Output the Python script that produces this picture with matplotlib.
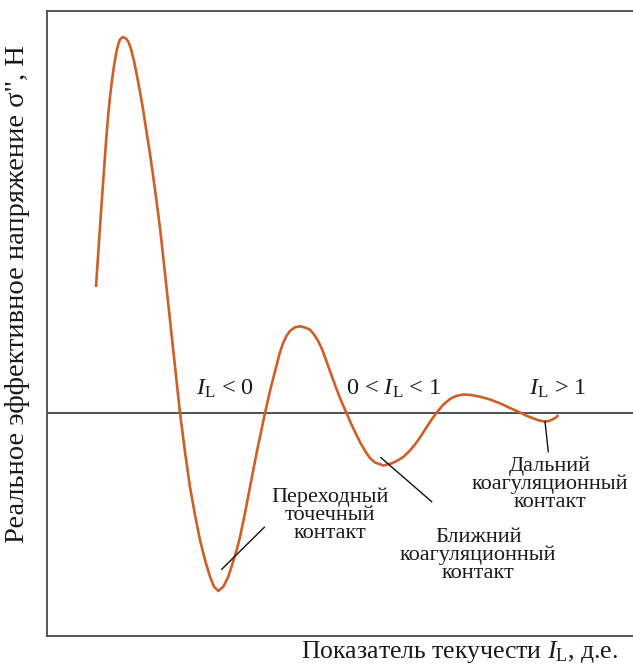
import matplotlib
matplotlib.use("Agg")
import matplotlib.pyplot as plt

plt.rcParams['font.family'] = ['Liberation Serif', 'DejaVu Serif']
plt.rcParams['mathtext.fontset'] = 'custom'
plt.rcParams['mathtext.rm'] = 'Liberation Serif'
plt.rcParams['mathtext.it'] = 'Liberation Serif:italic'

# curve (arbitrary units)
curve_x = [0.495, 0.528, 0.562, 0.595, 0.615, 0.635, 0.655, 0.675, 0.695, 0.715,
           0.735, 0.762, 0.795, 0.820, 0.845, 0.875, 0.905, 0.935, 0.970, 1.002,
           1.035, 1.068, 1.100, 1.135, 1.165, 1.195, 1.235, 1.285, 1.335, 1.385,
           1.435, 1.485, 1.535, 1.585, 1.635, 1.675, 1.718, 1.768, 1.818, 1.868,
           1.902, 1.935, 1.985, 2.035, 2.105, 2.185, 2.235, 2.302, 2.335, 2.368,
           2.402, 2.435, 2.485, 2.535, 2.585, 2.635, 2.675, 2.718, 2.760, 2.802,
           2.845, 2.902, 2.945, 3.002, 3.045, 3.102, 3.145, 3.202, 3.235, 3.285,
           3.368, 3.452, 3.502, 3.568, 3.625, 3.685, 3.735, 3.802, 3.845, 3.902,
           3.965, 4.035, 4.095, 4.168, 4.245, 4.335, 4.435, 4.535, 4.635, 4.735,
           4.805, 4.868, 4.925, 4.985, 5.025, 5.068, 5.095, 5.118]
curve_y = [1.255, 1.755, 2.245, 2.705, 2.955, 3.155, 3.325, 3.465, 3.585, 3.675,
           3.730, 3.755, 3.740, 3.705, 3.635, 3.515, 3.365, 3.205, 3.005, 2.795,
           2.585, 2.355, 2.115, 1.845, 1.575, 1.295, 0.925, 0.460, -0.005, -0.395,
           -0.745, -1.025, -1.275, -1.475, -1.642, -1.742, -1.785, -1.742, -1.642, -1.485,
           -1.375, -1.245, -1.005, -0.745, -0.385, -0.005, 0.215, 0.478, 0.605, 0.700,
           0.770, 0.815, 0.852, 0.862, 0.850, 0.828, 0.780, 0.712, 0.622, 0.505,
           0.385, 0.230, 0.120, -0.010, -0.110, -0.230, -0.315, -0.410, -0.455, -0.500,
           -0.530, -0.508, -0.485, -0.445, -0.390, -0.320, -0.250, -0.145, -0.080, 0.000,
           0.075, 0.135, 0.165, 0.180, 0.175, 0.158, 0.130, 0.092, 0.045, 0.000,
           -0.035, -0.058, -0.080, -0.090, -0.085, -0.065, -0.050, -0.025]

region_labels = [r'$I_\mathrm{L}$ < 0', r'0 < $I_\mathrm{L}$ < 1', r'$I_\mathrm{L}$ > 1']
region_x = [1.785, 3.475, 5.115]
region_y = [0.175, 0.175, 0.175]

note_texts = ['Переходный\nточечный\nконтакт',
              'Ближний\nкоагуляционный\nконтакт',
              'Дальний\nкоагуляционный\nконтакт']
note_x = [2.835, 4.318, 5.035]
note_y = [-0.75, -1.15, -0.435]
leader_start = [(1.752, -1.568), (3.345, -0.452), (4.985, -0.092)]
leader_end = [(2.178, -1.148), (3.852, -0.892), (5.018, -0.392)]

xlabel = r'Показатель текучести $I_\mathrm{L}$, д.е.'
ylabel = 'Реальное эффективное напряжение σ", Н'

fig = plt.figure(figsize=(6.33, 6.65), dpi=100)
ax = fig.add_axes([46.5 / 633, 29 / 665, 1 - 46.5 / 633, 625 / 665])
ax.set_xlim(0, 5.865)
ax.set_ylim(-2.235, 4.015)
ax.set_xticks([])
ax.set_yticks([])
for s in ['left', 'top', 'bottom']:
    ax.spines[s].set_color('#4a4a4a')
    ax.spines[s].set_linewidth(1.3)
ax.spines['right'].set_visible(False)

ax.axhline(0, color='#333333', lw=1.2, zorder=1)
ax.plot(curve_x, curve_y, color='#cf5f28', lw=1.9, zorder=3,
        solid_capstyle='butt', solid_joinstyle='round')

for t, x, y in zip(region_labels, region_x, region_y):
    ax.text(x, y, t, ha='center', va='baseline', fontsize=17.5, color='#1a1a1a')

for t, x, y in zip(note_texts, note_x, note_y):
    ax.text(x, y, t, ha='center', va='top', fontsize=16, linespacing=0.94,
            color='#1a1a1a')

for (x0, y0), (x1, y1) in zip(leader_start, leader_end):
    ax.plot([x0, x1], [y0, y1], color='#111111', lw=1.0, zorder=4)

fig.text(618 / 633, 0.011, xlabel, ha='right', va='baseline', fontsize=18.5,
         color='#1a1a1a')
fig.text(18 / 633, 0.558, ylabel, ha='center', va='center', rotation=90,
         fontsize=20.5, color='#1a1a1a')

fig.savefig('out.png', dpi=100)
